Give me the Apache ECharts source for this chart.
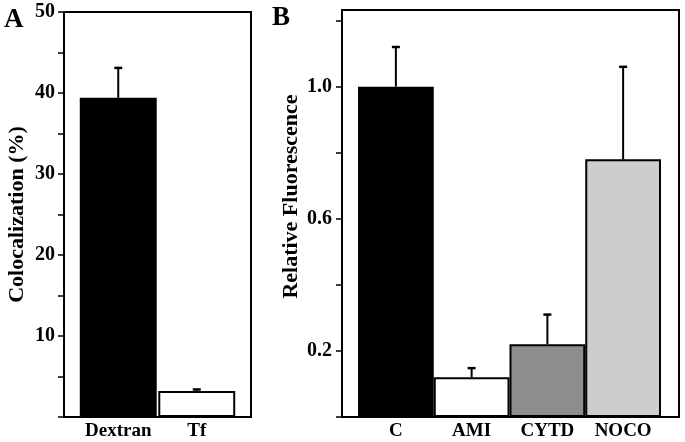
<!DOCTYPE html>
<html>
<head>
<meta charset="utf-8">
<script src="https://cdn.jsdelivr.net/npm/echarts@6/dist/echarts.min.js"></script>
<style>
html,body{margin:0;padding:0;background:#fff;}
#chart{width:685px;height:442px;}
</style>
</head>
<body>
<div id="chart"></div>
<script>
// Panel A data
const catsA = ['Dextran', 'Tf'];
const valsA = [39.4, 3.2];
const errsA = [3.7, 0.2];
const colorsA = ['#000000', '#ffffff'];
const tickLabelsA = [10, 20, 30, 40, 50];
const ticksA = [0, 5, 10, 15, 20, 25, 30, 35, 40, 45, 50];

// Panel B data
const catsB = ['C', 'AMI', 'CYTD', 'NOCO'];
const valsB = [1.0, 0.12, 0.22, 0.78];
const errsB = [0.12, 0.028, 0.09, 0.28];
const colorsB = ['#000000', '#ffffff', '#8e8e8e', '#cdcdcd'];
const tickLabelsB = [0.2, 0.6, 1.0];
const ticksB = [0, 0.2, 0.4, 0.6, 0.8, 1.0, 1.2];

const FONT = "'Liberation Serif', 'Times New Roman', serif";

const chart = echarts.init(document.getElementById('chart'), null, {renderer: 'canvas'});

function errRender(params, api) {
  const x = api.value(0);
  const v = api.value(1);
  const e = api.value(2);
  const p0 = api.coord([x, v]);
  const p1 = api.coord([x, v + e]);
  return {
    type: 'group',
    children: [
      {type: 'line', shape: {x1: p0[0], y1: p0[1], x2: p1[0], y2: p1[1]}, style: {stroke: '#000', lineWidth: 2}},
      {type: 'line', shape: {x1: p1[0] - 4, y1: p1[1], x2: p1[0] + 4, y2: p1[1]}, style: {stroke: '#000', lineWidth: 2.5}}
    ]
  };
}

const yCommon = {
  type: 'value',
  axisLine: {show: false},
  splitLine: {show: false},
  axisTick: {show: true, inside: false, length: 6, lineStyle: {color: '#000', width: 1.5}},
  axisLabel: {color: '#000', fontFamily: FONT, fontWeight: 'bold', fontSize: 20, margin: 9},
  nameLocation: 'middle',
  nameRotate: 90,
  nameTextStyle: {color: '#000', fontFamily: FONT, fontWeight: 'bold', fontSize: 22}
};

const xCommon = {
  type: 'category',
  axisLine: {show: false},
  axisTick: {show: false},
  axisLabel: {color: '#000', fontFamily: FONT, fontWeight: 'bold', fontSize: 19, margin: 5, interval: 0}
};

const option = {
  backgroundColor: '#fff',
  animation: false,
  grid: [
    {left: 79, top: 12, width: 157, height: 405},
    {left: 358, top: 10, width: 303, height: 407}
  ],
  xAxis: [
    Object.assign({}, xCommon, {gridIndex: 0, data: catsA}),
    Object.assign({}, xCommon, {gridIndex: 1, data: catsB})
  ],
  yAxis: [
    Object.assign({}, yCommon, {
      gridIndex: 0, min: 0, max: 50, offset: 15,
      name: 'Colocalization (%)', nameGap: 36,
      axisTick: Object.assign({}, yCommon.axisTick, {customValues: ticksA}),
      axisLabel: Object.assign({}, yCommon.axisLabel, {customValues: tickLabelsA})
    }),
    Object.assign({}, yCommon, {
      gridIndex: 1, min: 0, max: 1.232, offset: 16,
      name: 'Relative Fluorescence', nameGap: 40,
      nameTextStyle: Object.assign({}, yCommon.nameTextStyle, {padding: [0, 0, 0, 34]}),
      axisTick: Object.assign({}, yCommon.axisTick, {customValues: ticksB}),
      axisLabel: Object.assign({}, yCommon.axisLabel, {customValues: tickLabelsB, margin: 10, formatter: v => v.toFixed(1)})
    })
  ],
  series: [
    {
      type: 'bar', xAxisIndex: 0, yAxisIndex: 0, barCategoryGap: '2%',
      data: valsA.map((v, i) => ({value: v, itemStyle: {color: colorsA[i]}})),
      itemStyle: {borderColor: '#000', borderWidth: 2}
    },
    {
      type: 'custom', xAxisIndex: 0, yAxisIndex: 0, renderItem: errRender, z: 5,
      data: valsA.map((v, i) => [i, v, errsA[i]])
    },
    {
      type: 'bar', xAxisIndex: 1, yAxisIndex: 1, barCategoryGap: '0%',
      data: valsB.map((v, i) => ({value: v, itemStyle: {color: colorsB[i]}})),
      itemStyle: {borderColor: '#000', borderWidth: 2}
    },
    {
      type: 'custom', xAxisIndex: 1, yAxisIndex: 1, renderItem: errRender, z: 5,
      data: valsB.map((v, i) => [i, v, errsB[i]])
    }
  ],
  graphic: [
    {type: 'rect', z: 100, shape: {x: 64, y: 12, width: 187, height: 405}, style: {fill: null, stroke: '#000', lineWidth: 2}},
    {type: 'rect', z: 100, shape: {x: 342, y: 10, width: 337, height: 407}, style: {fill: null, stroke: '#000', lineWidth: 2}},
    {type: 'text', left: 4, top: 7, style: {text: 'A', fontFamily: FONT, fontWeight: 'bold', fontSize: 27, fill: '#000'}},
    {type: 'text', left: 272, top: 5, style: {text: 'B', fontFamily: FONT, fontWeight: 'bold', fontSize: 27, fill: '#000'}}
  ]
};

chart.setOption(option);
</script>
</body>
</html>
